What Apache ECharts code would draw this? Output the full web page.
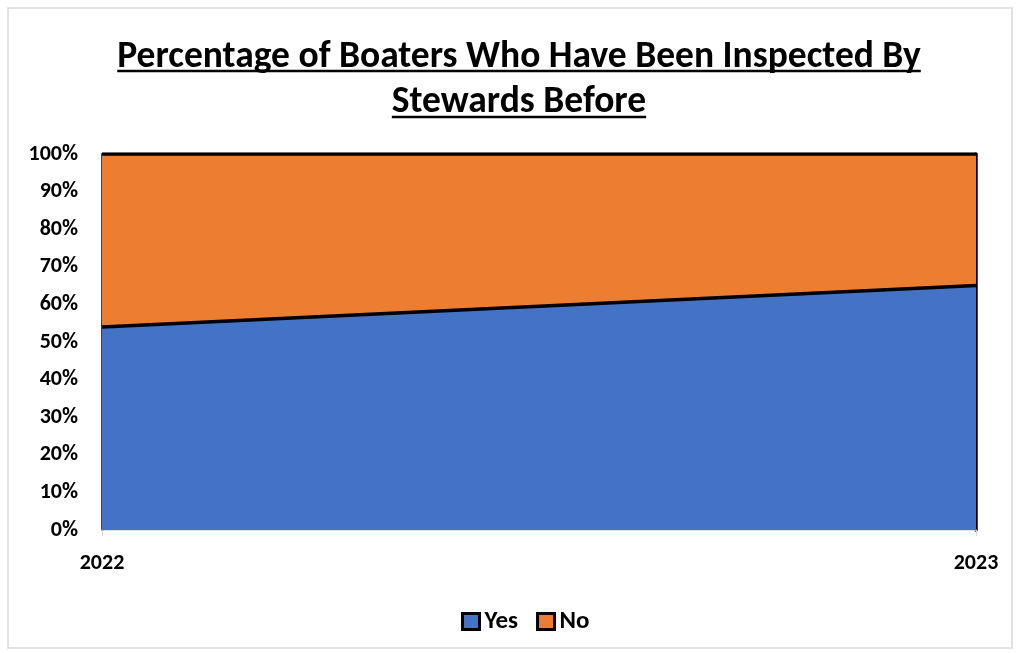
<!DOCTYPE html>
<html>
<head>
<meta charset="utf-8">
<script src="https://cdn.jsdelivr.net/npm/echarts@6/dist/echarts.min.js"></script>
<style>
  html, body { margin: 0; padding: 0; background: #fff; }
  #chart { width: 1018px; height: 653px; }
</style>
</head>
<body>
<div id="chart"></div>
<script>
// Share of boaters previously inspected by stewards, by year
const years = ['2022', '2023'];
const yesValues = [54, 65];
const noValues = [46, 35];
const seriesNames = ['Yes', 'No'];
const titleLines = ['Percentage of Boaters Who Have Been Inspected By', 'Stewards Before'];

const FONT = 'Carlito, Lato, sans-serif';
const TITLE_SIZE = 37.5;
const TITLE_LINE_H = 45;
const TITLE_TOP = 35;
const TITLE_CX = 519;

const legendText = { fontFamily: FONT, fontSize: 25, fontWeight: 'bold', color: '#000' };

// measure title lines to place the underlines
const ctx = document.createElement('canvas').getContext('2d');
ctx.font = 'bold ' + TITLE_SIZE + 'px ' + FONT;
const underlines = titleLines.map((t, i) => {
  const w = ctx.measureText(t).width;
  const y = 71 + 46 * i;
  return {
    type: 'line',
    shape: { x1: TITLE_CX - w / 2, y1: y, x2: TITLE_CX + w / 2, y2: y },
    style: { stroke: '#000', lineWidth: 2.5 }
  };
});

const chart = echarts.init(document.getElementById('chart'));
chart.setOption({
  animation: false,
  backgroundColor: '#fff',
  graphic: [
    {
      type: 'rect',
      shape: { x: 8, y: 8, width: 1004, height: 640 },
      style: { fill: 'none', stroke: '#d9d9d9', lineWidth: 1.5 },
      silent: true, z: -1
    },
    {
      type: 'text',
      x: TITLE_CX,
      y: TITLE_TOP,
      style: {
        text: titleLines.join('\n'),
        align: 'center',
        verticalAlign: 'top',
        font: 'bold ' + TITLE_SIZE + 'px ' + FONT,
        lineHeight: TITLE_LINE_H,
        fill: '#000'
      }
    }
  ].concat(underlines),
  legend: {
    data: seriesNames.map(n => ({ name: n, textStyle: legendText })),
    top: 604,
    left: 456,
    icon: 'rect',
    itemWidth: 17,
    itemHeight: 16,
    itemGap: 18,
    itemStyle: { borderColor: '#000', borderWidth: 3 },
    textStyle: legendText
  },
  grid: { left: 102, right: 42, top: 154, bottom: 123 },
  xAxis: {
    type: 'category',
    data: years,
    boundaryGap: false,
    axisLine: { show: true, lineStyle: { color: '#d9d9d9', width: 1.5 } },
    axisTick: { show: true, length: 6, lineStyle: { color: '#d9d9d9' } },
    axisLabel: {
      fontFamily: FONT, fontSize: 22, fontWeight: 'bold', color: '#000', margin: 22
    },
    splitLine: { show: false }
  },
  yAxis: [
    {
      type: 'value',
      min: 0, max: 100, interval: 10,
      axisLine: { show: true, lineStyle: { color: '#000', width: 2.5 } },
      axisTick: { show: false },
      splitLine: { show: false },
      axisLabel: {
        formatter: '{value}%',
        fontFamily: FONT, fontSize: 22, fontWeight: 'bold', color: '#000', margin: 24
      }
    },
    {
      type: 'value',
      min: 0, max: 100, interval: 10,
      position: 'right',
      axisLine: { show: true, lineStyle: { color: '#000', width: 3.5 } },
      axisTick: { show: false },
      splitLine: { show: false },
      axisLabel: { show: false }
    }
  ],
  series: [
    {
      name: seriesNames[0],
      type: 'line',
      stack: 'share',
      data: yesValues,
      symbol: 'none',
      itemStyle: { color: '#4472C4' },
      lineStyle: { color: '#000', width: 3.5 },
      areaStyle: { color: '#4472C4', opacity: 1 },
      z: 3
    },
    {
      name: seriesNames[1],
      type: 'line',
      stack: 'share',
      data: noValues,
      symbol: 'none',
      itemStyle: { color: '#ED7D31' },
      lineStyle: { color: '#000', width: 3.5 },
      areaStyle: { color: '#ED7D31', opacity: 1 },
      z: 2
    }
  ]
});
</script>
</body>
</html>
